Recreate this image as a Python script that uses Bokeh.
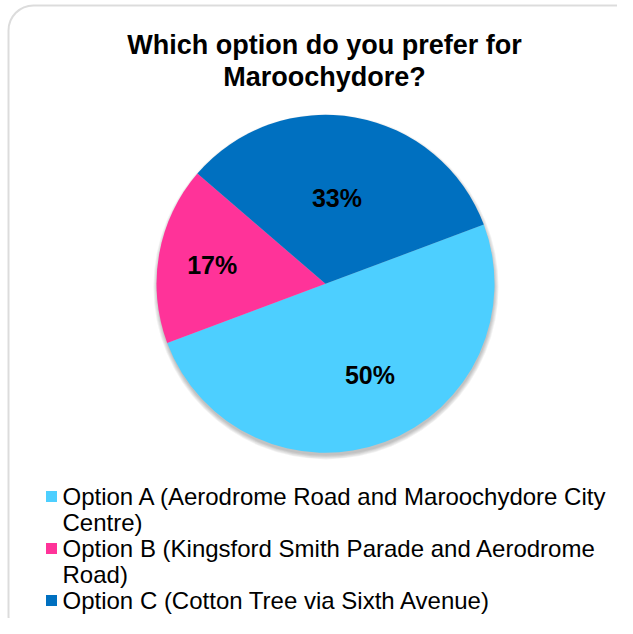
import math
import textwrap
from bokeh.plotting import figure
from bokeh.models import Range1d, BoxAnnotation, ColumnDataSource
from bokeh.core.properties import value
from bokeh.embed import file_html
from bokeh.resources import INLINE

# ---- data ----
title_lines = ["Which option do you prefer for", "Maroochydore?"]
categories = [
    "Option A (Aerodrome Road and Maroochydore City Centre)",
    "Option B (Kingsford Smith Parade and Aerodrome Road)",
    "Option C (Cotton Tree via Sixth Avenue)",
]
shares = [50, 17, 33]
colors = ["#4DCFFF", "#FF3399", "#0070C0"]

# ---- layout / style ----
W, H = 617, 618
FONT = "Liberation Sans"
def Y(ypix):
    return 634 - ypix

p = figure(width=W, height=H, x_range=Range1d(0, W), y_range=Range1d(634 - H, 634),
           output_backend="svg", toolbar_location=None, min_border=0,
           x_axis_location=None, y_axis_location=None)
p.grid.visible = False
p.outline_line_color = None
p.background_fill_color = "white"
p.border_fill_color = "white"

# chart border
p.add_layout(BoxAnnotation(left=8, right=640, top=Y(5), bottom=Y(640),
                           fill_color=None, line_color="#8A8A8A", line_width=2,
                           border_radius=25))

cx, cy, R = 325, Y(283.3), 169
start0 = math.radians(20.5)
total = sum(shares)
starts, ends, mids = [], [], []
a = start0
for s in shares:
    ang = s / total * 2 * math.pi
    starts.append(a)
    ends.append(a - ang)
    mids.append(a - ang / 2)
    a -= ang

# soft shadow
for k in range(5):
    p.circle(x=cx + 0.5, y=cy - 3, radius=R + k * 0.9, fill_color="black",
             fill_alpha=0.05, line_color=None)

src = ColumnDataSource(dict(start=starts, end=ends, color=colors, cat=categories))
p.wedge(x=cx, y=cy, radius=R, start_angle="start", end_angle="end", direction="clock",
        fill_color="color", line_color=None, source=src)

# percentage labels
label_r = [0.60, 0.68, 0.51]
label_da = [math.radians(5.5), math.radians(0.6), math.radians(2.5)]
lx = [cx + R * fr * math.cos(m + da) for m, fr, da in zip(mids, label_r, label_da)]
ly = [cy + R * fr * math.sin(m + da) for m, fr, da in zip(mids, label_r, label_da)]
p.text(x=lx, y=ly, text=[f"{s}%" for s in shares], text_align="center", text_baseline="middle",
       text_font=value(FONT), text_font_size="25px", text_font_style="bold", text_color="black")

# title
p.text(x=[324, 324], y=[Y(44), Y(76)], text=title_lines, text_align="center",
       text_baseline="middle", text_font=value(FONT), text_font_size="27px",
       text_font_style="bold", text_color="black")

# legend (manual, wrapped)
line_h = 26
y0 = 496
tx, ty, tt = [], [], []
sq_y = []
k = 0
for cat in categories:
    lines = textwrap.wrap(cat, width=46)
    sq_y.append(Y(y0 + k * line_h))
    for ln in lines:
        tx.append(62)
        ty.append(Y(y0 + k * line_h))
        tt.append(ln)
        k += 1
p.rect(x=[51] * len(categories), y=sq_y, width=11, height=11, fill_color=colors, line_color=None)
p.text(x=tx, y=ty, text=tt, text_align="left", text_baseline="middle", text_font=value(FONT),
       text_font_size="24px", text_color="black")

open("out.html", "w").write(file_html(p, INLINE))
